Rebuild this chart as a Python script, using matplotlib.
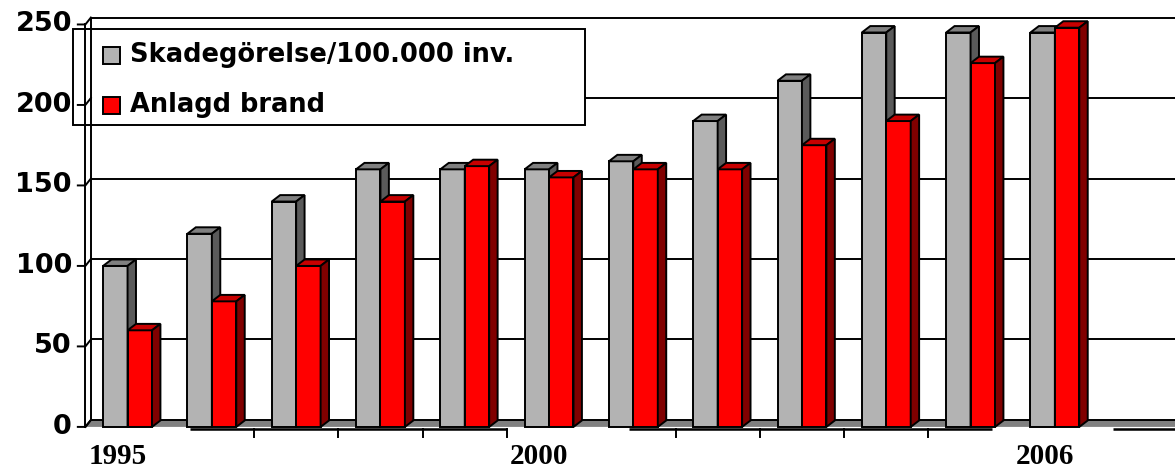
import matplotlib
matplotlib.use("Agg")
import matplotlib.pyplot as plt
from matplotlib.patches import Polygon, Rectangle
import numpy as np

years = list(range(1995, 2007))
skade = [100, 120, 140, 160, 160, 160, 165, 190, 215, 245, 245, 245]
anlagd = [60, 78, 100, 140, 162, 155, 160, 160, 175, 190, 226, 248]
series_names = ["Skadegörelse/100.000 inv.", "Anlagd brand"]
yticks = [0, 50, 100, 150, 200, 250]
year_labels = [1995, 2000, 2006]
# pieces of the front floor line that are drawn (category units)
axis_spans = [(0.74, 4.5), (5.95, 10.25), (11.69, 12.45)]

W, H = 1175, 470
fig = plt.figure(figsize=(W / 100, H / 100), dpi=100)
ax = fig.add_axes([85.4 / W, 27 / H, (W - 85.4) / W, 429 / H])
xmax = -0.5 + (W - 85.4) / 84.3
ax.set_xlim(-0.5, xmax)
ax.set_ylim(-10, 256.5)
ax.axis("off")

lw = 1.4
bw = 0.29          # bar width
bdx, bdy = 0.10, 4.0   # bar depth
wdx, wdy = 0.065, 4.3  # wall depth
x0 = -0.5

# back wall gridlines + top edge
for v in yticks[1:]:
    ax.plot([x0 + wdx, xmax], [v + wdy, v + wdy], color="black", lw=lw, zorder=1,
            solid_capstyle="butt")

# floor
floor = Polygon([(x0, 0), (xmax, 0), (xmax + wdx, wdy), (x0 + wdx, wdy)],
                closed=True, facecolor="#808080", edgecolor="none", zorder=1)
ax.add_patch(floor)
ax.plot([x0 + wdx, xmax], [wdy, wdy], color="black", lw=lw, zorder=1)


def bar3d(xl, h, face, top, side):
    ax.bar(xl, h, width=bw, align="edge", color=face, edgecolor="black",
           linewidth=lw, zorder=3)
    ax.add_patch(Polygon([(xl, h), (xl + bw, h), (xl + bw + bdx, h + bdy),
                          (xl + bdx, h + bdy)], closed=True, facecolor=top,
                         edgecolor="black", lw=lw, zorder=3))
    ax.add_patch(Polygon([(xl + bw, 0), (xl + bw, h), (xl + bw + bdx, h + bdy),
                          (xl + bw + bdx, bdy)], closed=True, facecolor=side,
                         edgecolor="black", lw=lw, zorder=3))


for i in range(len(years)):
    bar3d(i - bw, skade[i], "#B3B3B3", "#808080", "#5A5A5A")
    bar3d(i, anlagd[i], "#FF0000", "#C80000", "#800000")

# front floor line with ticks
for a, b in axis_spans:
    ax.plot([a, b], [-1.5, -1.5], color="black", lw=lw * 1.3, zorder=4,
            clip_on=False, solid_capstyle="butt")
    for t in np.arange(0.5, len(years) + 1):
        if a - 0.01 <= t <= b + 0.01:
            ax.plot([t, t], [-1.5, -6.5], color="black", lw=lw, zorder=4,
                    clip_on=False)

# legend (drawn under the left wall lines)
ft = fig.transFigure
ax.add_patch(Rectangle((73 / W, 1 - 125 / H), (585 - 73) / W, 96 / H,
                       transform=ft, facecolor="white", edgecolor="black",
                       lw=lw, zorder=5, clip_on=False))
for k, (name, col) in enumerate(zip(series_names, ["#B3B3B3", "#FF0000"])):
    yc = 55 + 50 * k
    ax.add_patch(Rectangle((103 / W, 1 - (yc + 8.5) / H), 17 / W, 17 / H,
                           transform=ft, facecolor=col, edgecolor="black",
                           lw=lw, zorder=6, clip_on=False))
    ax.text(130 / W, 1 - yc / H, name, transform=ft, ha="left", va="center",
            fontsize=18.5, fontweight="heavy", family="DejaVu Sans", zorder=7)

# left wall
ax.plot([x0, x0], [0, 250], color="black", lw=lw, zorder=8, clip_on=False)
ax.plot([x0 + wdx, x0 + wdx], [wdy, 250 + wdy], color="black", lw=lw, zorder=8,
        clip_on=False)
ax.plot([x0, x0 + wdx], [0, wdy], color="black", lw=lw, zorder=8, clip_on=False)
for v in yticks:
    ax.plot([x0 - 0.09, x0, x0 + wdx], [v, v, v + wdy], color="black", lw=lw,
            zorder=8, clip_on=False)
    ax.text(x0 - 0.16, v, str(v), ha="right", va="center", fontsize=19.5,
            fontweight="heavy", family="DejaVu Sans", clip_on=False)

for yr in year_labels:
    i = years.index(yr)
    ax.text(i - 0.12, -18.5, str(yr), ha="center", va="center", fontsize=21,
            fontweight="bold", family="Liberation Serif", clip_on=False)

fig.savefig("out.png", dpi=100)
